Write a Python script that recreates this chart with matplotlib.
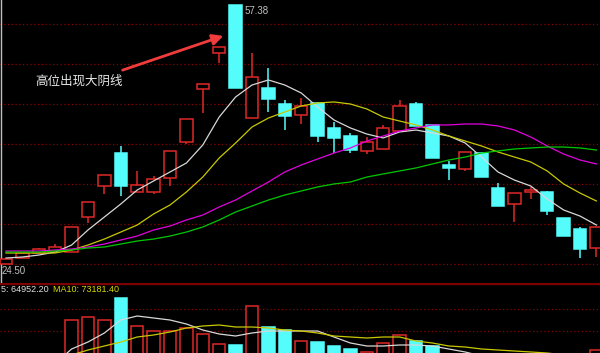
import numpy as np
import matplotlib
matplotlib.use("Agg")
import matplotlib.pyplot as plt

plt.rcParams['font.family'] = ['Noto Sans CJK SC', 'DejaVu Sans']

# price data
opens = [24.50, 25.26, 25.90, 26.15, 26.02, 30.47, 34.40, 38.59, 33.64, 33.64, 35.42, 39.99, 46.72, 51.29, 57.38,
         43.03, 46.84, 44.81, 43.42, 44.94, 41.77, 40.75, 38.85, 39.10, 41.38, 44.81, 42.15, 37.07, 36.56, 38.59,
         34.15, 32.12, 33.64, 33.64, 30.34, 28.94, 26.53]
highs = [25.13, 25.90, 26.53, 27.04, 29.20, 32.37, 35.80, 39.48, 36.31, 35.67, 38.85, 42.91, 47.35, 52.05, 57.38,
         51.29, 49.38, 45.32, 45.57, 45.07, 42.53, 41.13, 40.62, 42.15, 45.32, 45.07, 42.15, 37.58, 38.72, 38.72,
         34.78, 33.51, 34.28, 33.77, 30.34, 29.20, 29.20]
lows = [24.50, 25.26, 25.90, 26.15, 26.02, 29.70, 33.39, 33.13, 33.64, 33.39, 34.40, 39.73, 43.67, 50.02, 46.84,
        43.03, 43.80, 41.51, 42.27, 39.99, 38.59, 38.59, 38.46, 39.10, 41.38, 42.02, 37.96, 35.16, 36.31, 35.54,
        31.86, 29.83, 32.75, 30.72, 28.05, 25.26, 25.39]
closes = [25.13, 25.90, 26.40, 26.66, 29.20, 32.37, 35.80, 34.40, 34.53, 35.29, 38.85, 42.91, 47.35, 52.05, 46.84,
          48.24, 45.45, 43.29, 44.56, 40.75, 40.50, 38.97, 39.99, 41.77, 44.56, 42.02, 37.96, 36.69, 38.72, 35.54,
          31.86, 33.51, 33.89, 31.23, 28.05, 26.40, 29.20]

# moving averages as drawn
ma5 = [25.26, 25.39, 25.64, 26.02, 26.91, 28.82, 30.47, 32.12, 33.89, 35.04, 36.18, 37.32, 39.61, 43.16, 45.70,
       47.22, 47.86, 47.22, 46.21, 44.43, 42.78, 41.77, 41.00, 40.50, 41.26, 41.51, 41.13, 40.75, 39.86, 38.08,
       36.18, 35.16, 34.40, 32.75, 31.36, 30.59, 29.45]
ma10 = [25.90, 25.90, 25.90, 25.90, 26.28, 26.91, 27.67, 28.56, 29.45, 30.85, 31.99, 33.64, 35.54, 37.96, 39.86,
        41.89, 43.03, 43.80, 44.56, 44.94, 45.07, 44.81, 44.18, 43.16, 42.65, 42.15, 41.51, 40.75, 40.11, 39.48,
        38.72, 38.08, 37.45, 36.31, 34.66, 33.51, 32.50]
ma20 = [26.15, 26.15, 26.15, 26.28, 26.40, 26.66, 27.04, 27.55, 28.05, 28.82, 29.32, 30.09, 30.72, 31.74, 32.62,
        33.77, 34.91, 36.18, 37.07, 37.83, 38.59, 39.23, 40.11, 40.75, 41.38, 41.77, 42.15, 42.15, 42.27, 42.27,
        42.02, 41.51, 40.62, 39.48, 38.46, 37.70, 37.20]
ma30 = [26.02, 26.02, 26.02, 26.15, 26.28, 26.53, 26.66, 27.04, 27.42, 27.67, 28.05, 28.56, 29.20, 30.09, 31.10,
        31.86, 32.62, 33.26, 33.77, 34.28, 34.66, 34.91, 35.54, 35.93, 36.31, 36.69, 37.20, 37.70, 38.08, 38.59,
        38.85, 39.10, 39.23, 39.35, 39.35, 39.23, 38.97]

# volume
volume = [62000, 58000, 66000, 70000, 182000, 190400, 182000, 243600, 165200, 151200, 151200, 159600, 142800,
          114800, 112000, 221200, 162400, 154000, 123200, 120400, 109200, 100800, 92400, 117600, 140000, 123200,
          109200, 86000, 82000, 78000, 84000, 76800, 52000, 58000, 56000, 61000, 98000]
vol_ma5 = [56000, 57000, 58000, 60000, 100800, 120400, 145600, 182000, 193200, 187600, 182000, 170800, 154000,
           142800, 137200, 145600, 151200, 151200, 151200, 151200, 134400, 117600, 109200, 109200, 112000, 112000,
           109200, 100800, 92400, 81200, 75600, 70000, 64400, 64400, 65000, 65500, 64952.20]
vol_ma10 = [52000, 53000, 55000, 57000, 84000, 98000, 109200, 120400, 134400, 140000, 148400, 159600, 165200,
            168000, 162400, 162400, 159600, 154000, 151200, 145600, 137200, 134400, 131600, 134400, 134400, 123200,
            117600, 109200, 106400, 100800, 98000, 95200, 92400, 89600, 84000, 78400, 73181.40]

price_grid = [24.50, 29.58, 34.66, 39.73, 44.81, 49.89, 54.97]
vol_grid = [151200, 212800]

RED = '#e02828'
CYAN = '#54fcfc'
GRID = '#8b0000'

x = np.arange(len(opens))
o = np.array(opens); c = np.array(closes); h = np.array(highs); l = np.array(lows)
up = c >= o
colors = np.where(up, RED, CYAN)

fig = plt.figure(figsize=(6, 3.53), dpi=100, facecolor='black')
ax = fig.add_axes([0, 70 / 353, 1, 283 / 353])
axv = fig.add_axes([0, 0, 1, 70 / 353])
for a in (ax, axv):
    a.set_facecolor('black')
    a.set_xlim(-0.366, 36.22)
    a.set_xticks([]); a.set_yticks([])
    for s in a.spines.values():
        s.set_visible(False)

ax.set_ylim(22.09, 58.01)
axv.set_ylim(89600, 285600)

for g in price_grid:
    ax.axhline(g, color=GRID, lw=0.9, ls=(0, (1, 2)), zorder=0)
for g in vol_grid:
    axv.axhline(g, color=GRID, lw=0.9, ls=(0, (1, 2)), zorder=0)
axv.axhline(285600, color='#7a0000', lw=2.5, zorder=1)
ax.axvline(-0.33, color='#c0c0c0', lw=1)

# candles
w = 0.76
ax.vlines(x, l, h, colors=colors, lw=1.1, zorder=2)
body = np.maximum(np.abs(c - o), 0.2)
ax.bar(x[up], body[up], bottom=np.minimum(o, c)[up], width=w, facecolor='black', edgecolor=RED, lw=1.1, zorder=3)
ax.bar(x[~up], body[~up], bottom=np.minimum(o, c)[~up], width=w, facecolor=CYAN, edgecolor=CYAN, lw=1.1, zorder=3)

ax.plot(x, ma5, color='#d8d8d8', lw=0.9, zorder=4)
ax.plot(x, ma10, color='#c8c800', lw=0.9, zorder=4)
ax.plot(x, ma20, color='#e000e0', lw=0.9, zorder=4)
ax.plot(x, ma30, color='#00c800', lw=0.9, zorder=4)

# high / low labels
ax.text(14.55, 57.30, '57.38', color='#c0c0c0', fontsize=7, va='top', ha='left', family='Liberation Sans')
ax.text(-0.30, 24.20, '24.50', color='#c0c0c0', fontsize=7, va='top', ha='left', family='Liberation Sans')

# annotation
ax.annotate('', xy=(226 / 600, 1 - 35 / 283), xytext=(120 / 600, 1 - 71 / 283),
            xycoords='axes fraction', textcoords='axes fraction',
            arrowprops=dict(arrowstyle='-|>', color='#f03c3c', lw=2.0, mutation_scale=16))
ax.text(79 / 600, 1 - 81 / 283, '高位出现大阴线', color='#e8e8e8', fontsize=9, ha='center', va='center',
        transform=ax.transAxes)

# volume panel
vol = np.array(volume)
axv.bar(x[up], vol[up], width=w, facecolor='black', edgecolor=RED, lw=1.1, zorder=2)
axv.bar(x[~up], vol[~up], width=w, facecolor=CYAN, edgecolor=CYAN, lw=1.1, zorder=2)
axv.plot(x, vol_ma5, color='#d8d8d8', lw=0.9, zorder=3)
axv.plot(x, vol_ma10, color='#c8c800', lw=0.9, zorder=3)
axv.text(1 / 600, 1 - 7 / 70, '5: 64952.20', color='#e0e0e0', fontsize=6.5, ha='left', va='center',
         transform=axv.transAxes, family='Liberation Sans')
axv.text(53 / 600, 1 - 7 / 70, 'MA10: 73181.40', color='#d8d800', fontsize=6.5, ha='left', va='center',
         transform=axv.transAxes, family='Liberation Sans')

fig.savefig('out.png', dpi=100, facecolor='black')
